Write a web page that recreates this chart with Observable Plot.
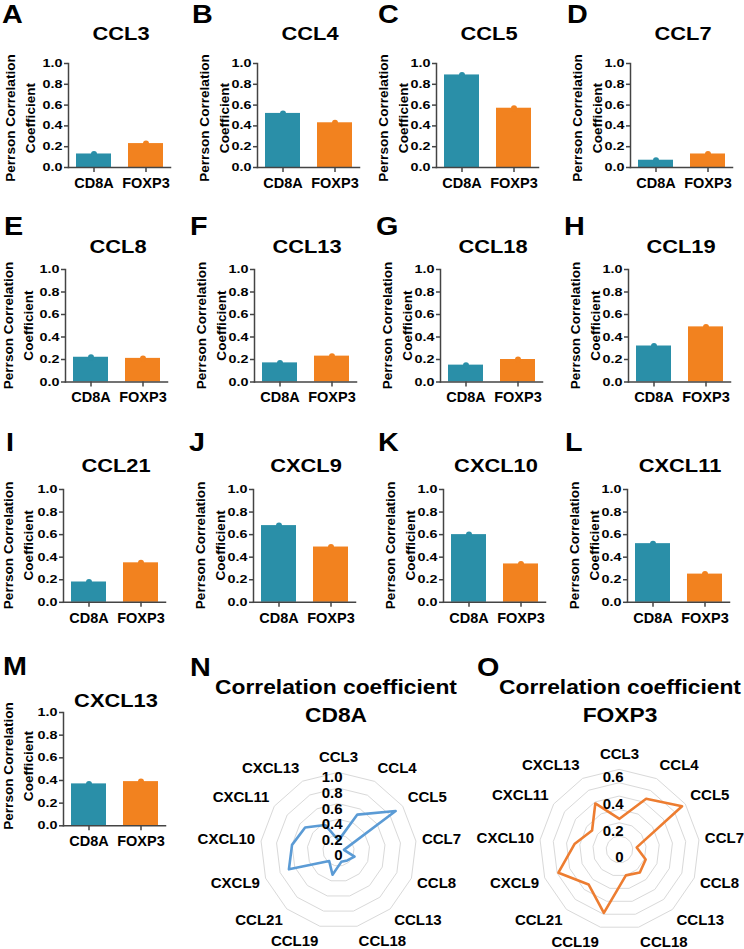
<!DOCTYPE html>
<html><head><meta charset="utf-8">
<script src="https://cdn.jsdelivr.net/npm/d3@7"></script>
<script src="https://cdn.jsdelivr.net/npm/@observablehq/plot@0.6"></script>
<style>
html,body{margin:0;padding:0;background:#fff;}
#fig{position:relative;width:744px;height:949px;overflow:hidden;background:#fff;}
.panel{position:absolute;}
.panel svg{display:block;max-width:none;overflow:visible;}
</style></head><body><div id="fig"></div>
<script>
// ---------------- data ----------------
const genes = ["CCL3","CCL4","CCL5","CCL7","CCL8","CCL13","CCL18","CCL19","CCL21","CXCL9","CXCL10","CXCL11","CXCL13"];
const panelLetters = ["A","B","C","D","E","F","G","H","I","J","K","L","M"];
const cd8a  = [0.13,0.52,0.89,0.07,0.22,0.17,0.15,0.32,0.18,0.68,0.60,0.52,0.37];
const foxp3 = [0.23,0.43,0.57,0.13,0.21,0.23,0.20,0.49,0.35,0.49,0.34,0.25,0.39];
const groups = ["CD8A","FOXP3"];
const yTicks = [0,0.2,0.4,0.6,0.8,1.0];
const yTitle = ["Perrson Correlation","Coefficient"];
const radarTitle = "Correlation coefficient";
const radarLetters = ["N","O"];
const cd8aRings = [0.2,0.4,0.6,0.8,1.0];
const cd8aRadarTicks = [0,0.2,0.4,0.6,0.8,1.0];
const foxp3Rings = [0.1,0.2,0.3,0.4,0.5,0.6];
const foxp3RadarTicks = [0,0.2,0.4,0.6];

// ---------------- style / layout ----------------
const TEAL = "#2a8fa8", ORANGE = "#f2821f", BLUE = "#5b9bd5", RORANGE = "#ed7d31";
const FONT = '"Liberation Sans", Arial, Helvetica, sans-serif';
const AXC = "#444";
const rows = [
  {top:62.7, bottom:166.7, letterY:23,  titleY:39.5, ytY:118, axisX:[68,257,436,630], letterX:[2,192,378,567]},
  {top:269.3,bottom:381.8, letterY:235, titleY:253,  ytY:325.5, axisX:[65,254,440,628], letterX:[4,190,376,564]},
  {top:489,  bottom:601.8, letterY:451, titleY:472,  ytY:545.4, axisX:[63,253,443,627], letterX:[6,189,378,565]},
  {top:711.7,bottom:825,   letterY:675, titleY:707,  ytY:766, axisX:[63],             letterX:[3]}
];
const AXW = 102, ML = 48, MR = 6, MT = 8, MB = 32;

const fig = document.getElementById("fig");
function place(node, left, top, w) {
  const d = document.createElement("div");
  d.className = "panel";
  d.style.left = left + "px"; d.style.top = top + "px"; d.style.width = w + "px";
  d.appendChild(node); fig.appendChild(d);
  return node;
}
function stretchText(svg, sel, sx) {
  svg.querySelectorAll(sel).forEach(el => {
    const t = el.getAttribute("transform") || "";
    el.setAttribute("transform", `${t} scale(${sx},1)`);
  });
}

// ---------------- small bar charts ----------------
genes.forEach((gene, k) => {
  const r = Math.floor(k / 4), c = k % 4, row = rows[r];
  const H = row.bottom - row.top;
  const data = groups.map((g, j) => ({g, v: j === 0 ? cd8a[k] : foxp3[k]}));
  const chart = Plot.plot({
    width: ML + AXW + MR, height: MT + H + MB,
    marginLeft: ML, marginRight: MR, marginTop: MT, marginBottom: MB,
    style: {fontFamily: FONT, fontWeight: "bold", fontSize: "14.5px", color: "#000", background: "transparent", overflow: "visible"},
    x: {domain: groups, paddingInner: 0.33, paddingOuter: 0.14},
    y: {domain: [0, 1]},
    color: {domain: groups, range: [TEAL, ORANGE]},
    marks: [
      Plot.barY(data, {x: "g", y: "v", fill: "g"}),
      Plot.dot(data, {x: "g", y: "v", fill: "g", r: 3}),
      Plot.frame({anchor: "left", stroke: AXC, strokeWidth: 1.5}),
      Plot.frame({anchor: "bottom", stroke: AXC, strokeWidth: 1.5}),
      Plot.axisY({ticks: yTicks, tickFormat: d3.format(".1f"), tickSize: 4, tickPadding: 2, fontSize: 11.2, label: null, stroke: AXC, strokeWidth: 1.5}),
      Plot.axisX({tickSize: 5, tickPadding: 5, label: null, stroke: AXC, strokeWidth: 1.5})
    ]
  });
  place(chart, row.axisX[c] - ML, row.top - MT, ML + AXW + MR);
  stretchText(chart, 'g[aria-label="y-axis tick label"] text', 1.28);
});

// ---------------- radar charts ----------------
const RTOP = 730;
function radar(values, rings, ticks, maxV, R, color, left, cx, cy, width, tickDy) {
  const cxl = cx - left, cyl = cy - RTOP;
  const n = genes.length;
  const ang = i => i * 2 * Math.PI / n;
  const pts = genes.map((g, i) => ({g, x: values[i] * Math.sin(ang(i)), y: values[i] * Math.cos(ang(i))}));
  const ringPts = rings.flatMap(rv => genes.map((g, i) => ({r: rv, x: rv * Math.sin(ang(i)), y: rv * Math.cos(ang(i))})));
  const u = maxV / R; // data units per pixel
  const L = maxV + 6 * u;
  const lab = genes.map((g, i) => {
    const s = Math.sin(ang(i)), co = Math.cos(ang(i));
    return {g, s, x: L * s, y: L * co + co * 9 * u};
  });
  const chart = Plot.plot({
    width, height: 949 - RTOP, margin: 0,
    style: {fontFamily: FONT, fontWeight: "bold", fontSize: "15px", color: "#000", background: "transparent", overflow: "visible"},
    x: {domain: [-maxV, maxV], range: [cxl - R, cxl + R], axis: null},
    y: {domain: [-maxV, maxV], range: [cyl + R, cyl - R], axis: null},
    marks: [
      Plot.line(ringPts, {x: "x", y: "y", z: "r", curve: "linear-closed", stroke: "#d9d9d9", strokeWidth: 1}),
      Plot.line(pts, {x: "x", y: "y", curve: "linear-closed", stroke: color, strokeWidth: 2.6}),
      Plot.text(ticks, {x: 0, y: d => d, text: d => d === 0 ? "0" : d.toFixed(1), textAnchor: "end", dx: 4, dy: tickDy}),
      Plot.text(lab.filter(d => d.s > 0.2), {x: "x", y: "y", text: "g", textAnchor: "start"}),
      Plot.text(lab.filter(d => d.s < -0.2), {x: "x", y: "y", text: "g", textAnchor: "end"}),
      Plot.text(lab.filter(d => Math.abs(d.s) <= 0.2), {x: "x", y: "y", text: "g", textAnchor: "middle"})
    ]
  });
  place(chart, left, RTOP, width);
}
radar(cd8a, cd8aRings, cd8aRadarTicks, 1.0, 78, BLUE, 190, 338, 850, 290, 5);
radar(foxp3, foxp3Rings, foxp3RadarTicks, 0.6, 80, RORANGE, 470, 619, 849, 274, 8);

// ---------------- text overlay ----------------
const ov = d3.select(fig).append("svg")
  .attr("width", 744).attr("height", 949)
  .style("position", "absolute").style("left", 0).style("top", 0)
  .style("pointer-events", "none")
  .attr("font-family", FONT).attr("font-weight", "bold").attr("fill", "#000");

genes.forEach((gene, k) => {
  const r = Math.floor(k / 4), c = k % 4, row = rows[r];
  const ax = row.axisX[c];
  ov.append("text").attr("font-size", 25)
    .attr("transform", `translate(${row.letterX[c]},${row.letterY}) scale(1.15,1)`)
    .text(panelLetters[k]);
  ov.append("text").attr("font-size", 19).attr("text-anchor", "middle")
    .attr("transform", `translate(${ax + 53},${row.titleY}) scale(1.15,1)`)
    .text(gene);
  const x1 = c === 0 ? Math.max(ax - 58, 8.5) : ax - 53;
  const x2 = c === 0 ? Math.max(ax - 38, 28.5) : ax - 33;
  [x1, x2].forEach((xx, j) => {
    ov.append("text").attr("font-size", 13.6).attr("text-anchor", "middle")
      .attr("dominant-baseline", "central")
      .attr("transform", `translate(${xx},${row.ytY}) rotate(-90)`)
      .text(yTitle[j]);
  });
});

// radar titles and letters
[[radarLetters[0], 190, 336, groups[0]], [radarLetters[1], 477, 620, groups[1]]].forEach(([lt, lx, cx, g]) => {
  ov.append("text").attr("font-size", 25)
    .attr("transform", `translate(${lx},676) scale(1.15,1)`).text(lt);
  ov.append("text").attr("font-size", 20).attr("text-anchor", "middle")
    .attr("transform", `translate(${cx},694) scale(1.14,1)`).text(radarTitle);
  ov.append("text").attr("font-size", 20).attr("text-anchor", "middle")
    .attr("transform", `translate(${cx},721.7) scale(1.14,1)`).text(g);
});
</script></body></html>
